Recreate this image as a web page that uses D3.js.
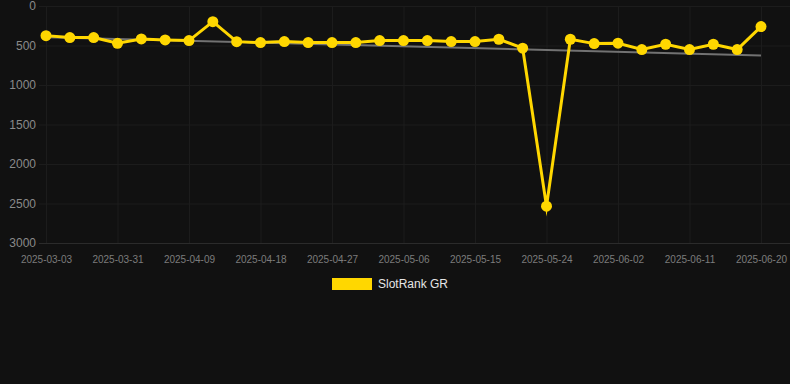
<!DOCTYPE html>
<html>
<head>
<meta charset="utf-8">
<script src="https://cdn.jsdelivr.net/npm/d3@7"></script>
<style>
  html, body { margin: 0; padding: 0; background: #111111; }
  #canvas { width: 790px; height: 384px; }
  text { font-family: "Liberation Sans", Arial, Helvetica, sans-serif; }
</style>
</head>
<body>
<div id="canvas"></div>
<script>
const dates = [
    "2025-03-03", "2025-03-25", "2025-03-28", "2025-03-31", "2025-04-03", "2025-04-06",
    "2025-04-09", "2025-04-12", "2025-04-15", "2025-04-18", "2025-04-21", "2025-04-24",
    "2025-04-27", "2025-04-30", "2025-05-03", "2025-05-06", "2025-05-09", "2025-05-12",
    "2025-05-15", "2025-05-18", "2025-05-21", "2025-05-24", "2025-05-27", "2025-05-30",
    "2025-06-02", "2025-06-05", "2025-06-08", "2025-06-11", "2025-06-14", "2025-06-17",
    "2025-06-20"
];
const ranks = [
    375, 400, 400, 472, 417, 430, 438, 198, 451, 463, 450, 463,
    463, 463, 438, 438, 438, 450, 450, 421, 534, 2534, 421, 476,
    471, 551, 484, 551, 484, 551, 261
];
const yTicks = [0, 500, 1000, 1500, 2000, 2500, 3000];
const xTicks = dates.filter((d, i) => i % 3 === 0);
const seriesName = "SlotRank GR";

const width = 790;
const height = 384;
const margin = { top: 6, left: 39, bottom: 141, right: 0 };
const plotBottom = height - margin.bottom;

const svg = d3.select("#canvas").append("svg")
    .attr("width", width)
    .attr("height", height);

svg.append("rect")
    .attr("width", width)
    .attr("height", height)
    .attr("fill", "#111111");

const x = d3.scalePoint()
    .domain(dates)
    .range([46, 761]);

const y = d3.scaleLinear()
    .domain([0, 3000])
    .range([margin.top, plotBottom]);

// grid
const ygrid = svg.append("g")
    .attr("transform", `translate(${margin.left},0)`)
    .call(d3.axisLeft(y).tickValues(yTicks).tickSize(-(width - margin.left)).tickFormat(""));
ygrid.select(".domain").remove();
ygrid.selectAll("line").attr("stroke", d => d === 3000 ? "#2b2b2b" : "#1c1c1c");

const xgrid = svg.append("g")
    .attr("transform", `translate(0,${plotBottom})`)
    .call(d3.axisBottom(x).tickValues(xTicks).tickSize(-(plotBottom - margin.top)).tickFormat(""));
xgrid.select(".domain").remove();
xgrid.selectAll("line").attr("stroke", "#1c1c1c");

// axes labels
const yAxis = svg.append("g")
    .attr("transform", `translate(${margin.left},0)`)
    .call(d3.axisLeft(y).tickValues(yTicks).tickFormat(d3.format("d")).tickSize(0).tickPadding(3));
yAxis.select(".domain").remove();
yAxis.selectAll("text")
    .attr("fill", "#8a8a8a")
    .style("font-size", "12px")
    .style("font-family", "'Liberation Sans', Arial, sans-serif");

const xAxis = svg.append("g")
    .attr("transform", `translate(0,${plotBottom})`)
    .call(d3.axisBottom(x).tickValues(xTicks).tickSize(0).tickPadding(12.5));
xAxis.select(".domain").remove();
xAxis.selectAll("text")
    .attr("fill", "#7c7c7c")
    .style("font-size", "10px")
    .style("font-family", "'Liberation Sans', Arial, sans-serif");

// trend line (least squares)
const n = ranks.length;
const idx = d3.range(n);
const mx = d3.mean(idx);
const my = d3.mean(ranks);
const slope = d3.sum(idx, i => (i - mx) * (ranks[i] - my)) / d3.sum(idx, i => (i - mx) * (i - mx));
const icpt = my - slope * mx;

svg.append("line")
    .attr("x1", x(dates[0]))
    .attr("y1", y(icpt))
    .attr("x2", x(dates[n - 1]))
    .attr("y2", y(icpt + slope * (n - 1)))
    .attr("stroke", "#727272")
    .attr("stroke-width", 2);

// series
const line = d3.line()
    .x((d, i) => x(dates[i]))
    .y(d => y(d));

svg.append("path")
    .datum(ranks)
    .attr("d", line)
    .attr("fill", "none")
    .attr("stroke", "#ffd700")
    .attr("stroke-width", 3)
    .attr("stroke-linejoin", "miter")
    .attr("stroke-miterlimit", 10);

svg.selectAll("circle.pt").data(ranks)
    .enter().append("circle")
    .attr("class", "pt")
    .attr("cx", (d, i) => x(dates[i]))
    .attr("cy", d => y(d))
    .attr("r", 5.5)
    .attr("fill", "#ffd700");

// legend
svg.append("rect")
    .attr("x", 332)
    .attr("y", 278)
    .attr("width", 40)
    .attr("height", 12)
    .attr("fill", "#ffd700");

svg.append("text")
    .attr("x", 378)
    .attr("y", 284)
    .attr("dy", "0.35em")
    .attr("fill", "#e6e6e6")
    .style("font-size", "12px")
    .text(seriesName);
</script>
</body>
</html>
